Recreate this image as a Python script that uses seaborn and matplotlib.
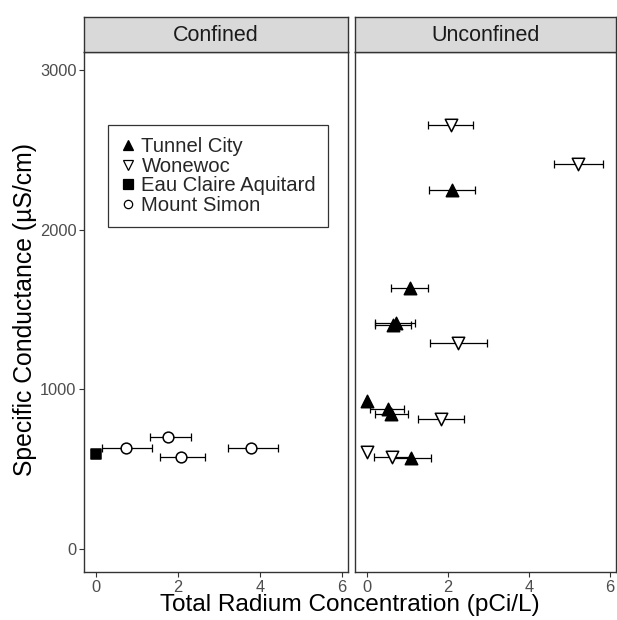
import numpy as np
import pandas as pd
import matplotlib
matplotlib.use("Agg")
import matplotlib.pyplot as plt
import seaborn as sns
from matplotlib.lines import Line2D

sns.set_theme(style="white")
plt.rcParams['font.family'] = ['Liberation Sans', 'DejaVu Sans']

# ---- data ----
panel = ["Confined"] * 5 + ["Unconfined"] * 14
unit = (["Eau Claire Aquitard"] + ["Mount Simon"] * 4
        + ["Tunnel City"] * 8 + ["Wonewoc"] * 6)
radium = [0.00, 0.73, 1.76, 2.07, 3.78,
          2.11, 1.06, 0.65, 0.73, 0.00, 0.52, 0.60, 1.09,
          2.07, 5.22, 2.26, 1.83, 0.00, 0.63]
rad_lo = [np.nan, 0.16, 1.32, 1.57, 3.23,
          1.54, 0.61, 0.20, 0.20, np.nan, 0.08, 0.20, 0.60,
          1.50, 4.62, 1.57, 1.26, np.nan, 0.18]
rad_hi = [np.nan, 1.37, 2.32, 2.66, 4.44,
          2.68, 1.50, 1.08, 1.20, np.nan, 0.93, 1.02, 1.59,
          2.62, 5.83, 2.96, 2.40, np.nan, 1.07]
spc = [593, 634, 703, 574, 630,
       2248, 1636, 1403, 1413, 927, 875, 843, 572,
       2655, 2411, 1288, 814, 609, 578]

df = pd.DataFrame({"panel": panel, "unit": unit, "radium": radium,
                   "lo": rad_lo, "hi": rad_hi, "spc": spc})

units = ["Tunnel City", "Wonewoc", "Eau Claire Aquitard", "Mount Simon"]
markers = {"Tunnel City": "^", "Wonewoc": "v", "Eau Claire Aquitard": "s", "Mount Simon": "o"}
faces = {"Tunnel City": "black", "Wonewoc": "white", "Eau Claire Aquitard": "black", "Mount Simon": "white"}
sizes = {"Tunnel City": 80, "Wonewoc": 80, "Eau Claire Aquitard": 50, "Mount Simon": 60}

fig = plt.figure(figsize=(6.17, 6.20), dpi=100)
W, H = 617, 620
panels = {"Confined": (84, 348), "Unconfined": (355, 616)}
top, bottom, strip_top = 52, 572, 17
edge = "#333333"

axes = {}
for name, (l, r) in panels.items():
    ax = fig.add_axes([l / W, (H - bottom) / H, (r - l) / W, (bottom - top) / H])
    axes[name] = ax
    sub = df[df.panel == name]
    # error bars
    eb = sub.dropna(subset=["lo"])
    for _, row in eb.iterrows():
        ax.errorbar(row.radium, row.spc,
                    xerr=[[row.radium - row.lo], [row.hi - row.radium]],
                    fmt="none", ecolor="black", elinewidth=0.9, capsize=3.2,
                    capthick=0.9, zorder=2)
    for u in units:
        s = sub[sub.unit == u]
        if len(s) == 0:
            continue
        sns.scatterplot(data=s, x="radium", y="spc", marker=markers[u], s=sizes[u],
                        facecolor=faces[u], edgecolor="black", linewidth=1.1,
                        ax=ax, zorder=3, legend=False)
    ax.set_xlim(-0.29, 6.15)
    ax.set_ylim(-145, 3112)
    ax.set_xticks([0, 2, 4, 6])
    ax.set_yticks([0, 1000, 2000, 3000])
    ax.set_xlabel("")
    ax.set_ylabel("")
    ax.tick_params(axis="both", which="both", length=3.5, width=0.8, color=edge,
                   labelsize=11.8, labelcolor="#4D4D4D", pad=2, bottom=True, left=True)
    for sp in ax.spines.values():
        sp.set_color(edge)
        sp.set_linewidth(1.0)
    if name == "Unconfined":
        ax.tick_params(axis="y", left=False, labelleft=False)
    # strip
    sax = fig.add_axes([l / W, (H - top) / H, (r - l) / W, (top - strip_top) / H])
    sax.set_facecolor("#D9D9D9")
    sax.set_xticks([])
    sax.set_yticks([])
    for sp in sax.spines.values():
        sp.set_color(edge)
        sp.set_linewidth(1.0)
    sax.text(0.5, 0.47, name, ha="center", va="center", fontsize=15.5,
             color="#1A1A1A", transform=sax.transAxes)

fig.text(350 / W, 4 / H, "Total Radium Concentration (pCi/L)",
         ha="center", va="bottom", fontsize=17.6, color="black")
fig.text(25 / W, (H - 309) / H, "Specific Conductance (\u00b5S/cm)",
         ha="center", va="center", rotation=90, fontsize=17.8, color="black")

handles = [Line2D([], [], linestyle="none", marker=markers[u], markersize=6.5 if u != "Mount Simon" else 6,
                  markerfacecolor=faces[u], markeredgecolor="black", markeredgewidth=0.9)
           for u in units]
leg = axes["Confined"].legend(handles, units, loc="upper left",
                              bbox_to_anchor=((108 - 84) / (348 - 84), 1 - (125 - 52) / (572 - 52)),
                              frameon=True, fancybox=False, fontsize=14.6, handlelength=0.75,
                              handletextpad=0.3, labelspacing=0.03, borderpad=0.6,
                              borderaxespad=0)
leg.get_frame().set_edgecolor("black")
leg.get_frame().set_linewidth(0.9)

fig.savefig("out.png", dpi=100)
